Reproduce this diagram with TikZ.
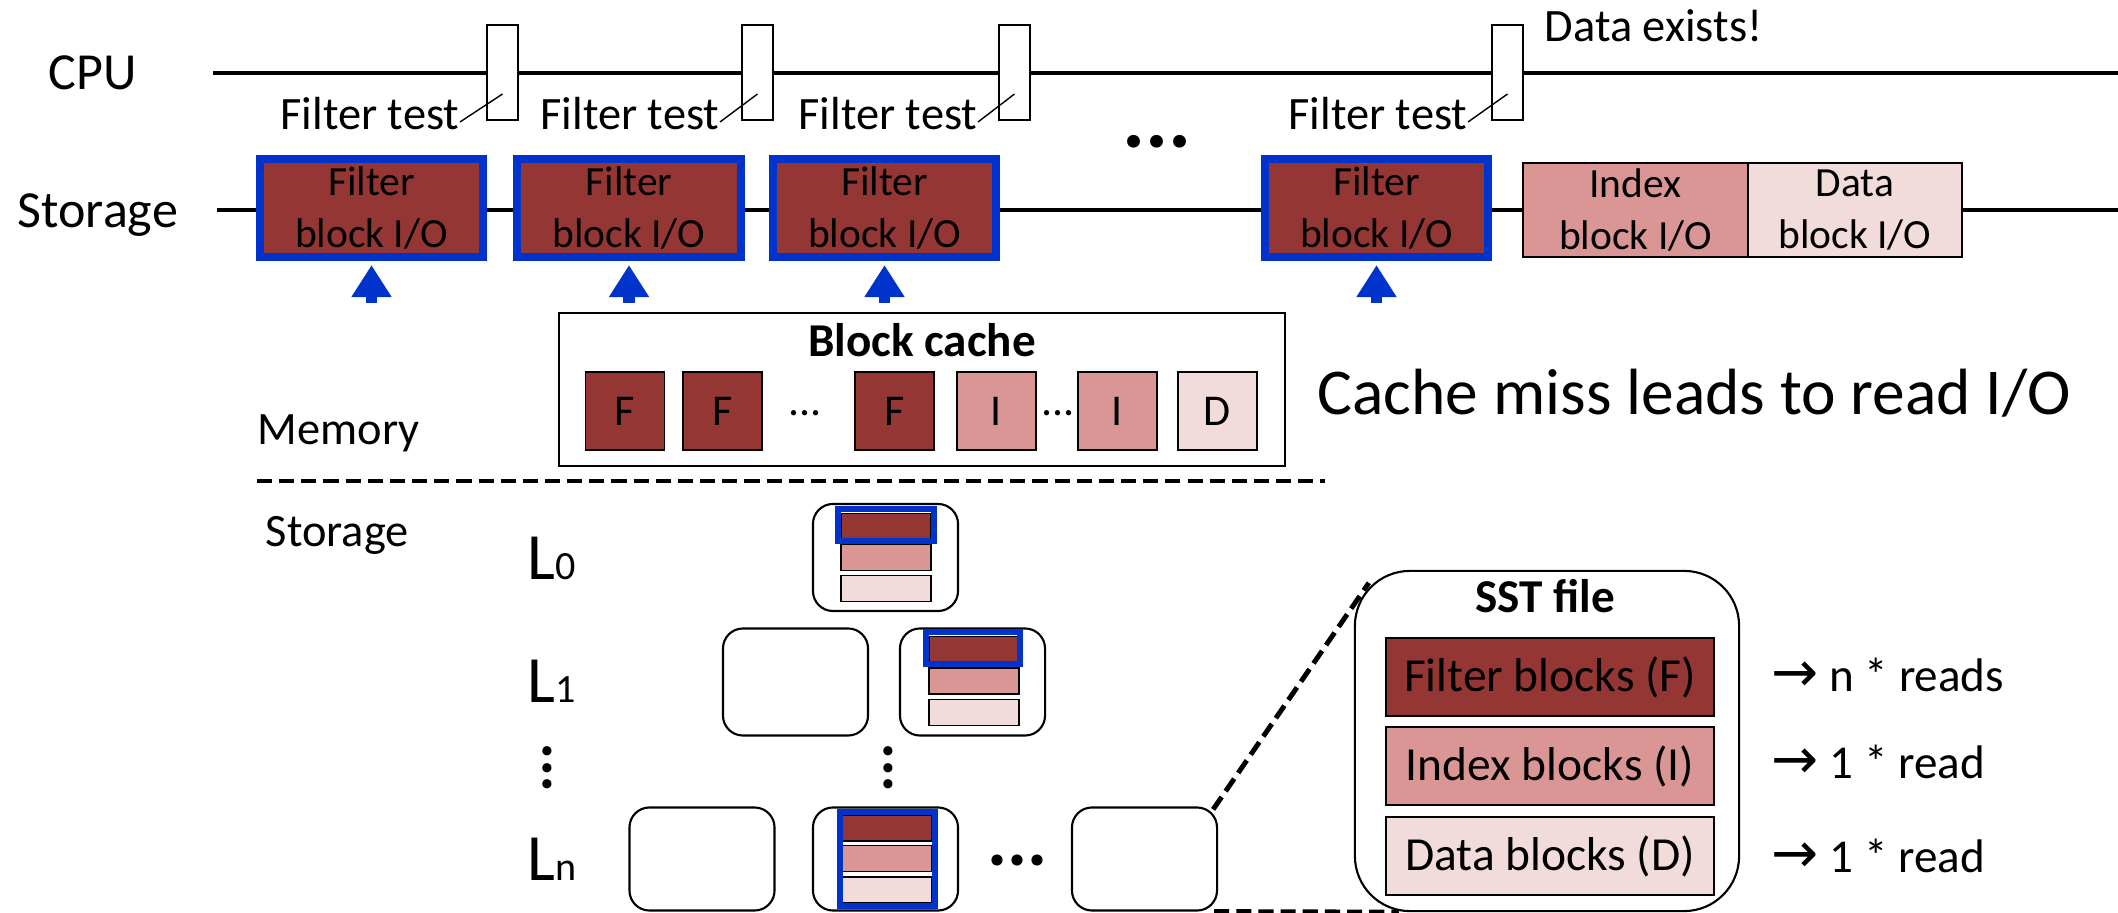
\documentclass[tikz,border=0pt]{standalone}
\usepackage{fontspec}
\setmainfont{Carlito}
\newfontfamily\arrowfont{DejaVu Sans}
\usetikzlibrary{arrows.meta,calc}
\definecolor{filterred}{HTML}{943634}
\definecolor{indexpink}{HTML}{D99694}
\definecolor{datapink}{HTML}{F2DCDB}
\definecolor{ioblue}{HTML}{0033CC}
\newcommand{\sz}[2]{\fontsize{#1}{#2}\selectfont}
\newcommand{\rarr}{{\arrowfont\sz{16}{16}→}}

\begin{document}
\begin{tikzpicture}[x=0.01cm,y=-0.01cm,
  timeline/.style={line width=1.2pt},
  cpubox/.style={draw,fill=white,line width=0.6pt,minimum width=0.31cm,minimum height=0.95cm,inner sep=0pt},
  lbl/.style={inner sep=0pt},
  leader/.style={line width=0.4pt},
  filterio/.style={draw=ioblue,fill=filterred,line width=2.3pt,minimum width=2.23cm,minimum height=0.98cm,inner sep=0pt,align=center,font=\sz{11.8}{14.8}},
  plainio/.style={draw,line width=0.6pt,minimum height=0.94cm,inner sep=0pt,align=center,font=\sz{11.8}{14.8}},
  readarrow/.style={ioblue,line width=3.4pt,-{Triangle[length=0.32cm,width=0.38cm]}},
  cell/.style={draw,line width=0.5pt,minimum width=0.79cm,minimum height=0.78cm,inner sep=0pt,font=\sz{12.5}{15}},
  sstfile/.style={draw,line width=0.6pt,rounded corners=0.2cm,minimum width=1.45cm,minimum height=1.07cm,inner sep=0pt},
  blk/.style={draw,line width=0.5pt,minimum width=0.9cm,minimum height=0.26cm,inner sep=0pt},
  hitframe/.style={draw=ioblue,line width=1.7pt,inner sep=0pt},
  memsep/.style={line width=1.4pt,dash pattern=on 4.3pt off 2pt},
  bigblk/.style={draw,line width=0.6pt,minimum width=3.28cm,minimum height=0.78cm,inner sep=0pt,font=\sz{13.5}{16}},
]
\useasboundingbox (0,0) rectangle (2118,913);

% ---- timelines ----
\node[lbl,anchor=base west,font=\sz{14.8}{17}] (cpu) at (48,90) {CPU};
\node[lbl,anchor=base west,font=\sz{14.8}{17}] (sto) at (17,228) {Storage};
\draw[timeline] (213,73) -- (2118,73);
\draw[timeline] (217,210) -- (2118,210);

% CPU filter tests
\foreach \i/\x in {1/502.5,2/757.5,3/1014.5,4/1507.5}
  \node[cpubox] (t\i) at (\x,72.5) {};
\foreach \i/\x in {1/460,2/720,3/978,4/1468} {
  \node[lbl,anchor=base east,font=\sz{13.2}{15}] (ft\i) at (\x,130) {Filter test};
  \draw[leader] ([yshift=0.08cm]ft\i.base east) -- ([yshift=-0.215cm]t\i.center);
}
\node[lbl,anchor=base west,font=\sz{13.2}{15}] (found) at (1544,42) {Data exists!};

% storage reads
\foreach \i/\x in {1/371.5,2/629,3/884.5,4/1376.5} {
  \node[filterio] (f\i) at (\x,208) {Filter\\block I/O};
  \coordinate (a\i) at (\x,303);
  \draw[readarrow] (a\i) -- ([yshift=-0.04cm]f\i.south);
}
\node[plainio,fill=indexpink,minimum width=2.25cm] (ix) at (1635.5,210) {Index\\block I/O};
\node[plainio,fill=datapink,minimum width=2.14cm] (dx) at (1855,210) {Data\\block I/O};
\node[lbl,font=\bfseries\sz{24.5}{26}] (tdots) at (1157,142) {...};

% ---- block cache ----
\node[draw,line width=0.6pt,minimum width=7.26cm,minimum height=1.53cm,inner sep=0pt] (cache) at (922,389.5) {};
\node[lbl,anchor=base,font=\bfseries\sz{13.4}{16}] (cachet) at (922,357) {Block cache};
\node[cell,fill=filterred] (c1) at (625,411) {F};
\node[cell,fill=filterred] (c2) at (722.5,411) {F};
\node[cell,fill=filterred] (c3) at (894.5,411) {F};
\node[cell,fill=indexpink] (c4) at (996.5,411) {I};
\node[cell,fill=indexpink] (c5) at (1117.5,411) {I};
\node[cell,fill=datapink] (c6) at (1217.5,411) {D};
\node[lbl,anchor=base,font=\sz{12.5}{15}] (cd1) at (805,416) {...};
\node[lbl,anchor=base,font=\sz{12.5}{15}] (cd2) at (1058,416) {...};
\node[lbl,anchor=base west,font=\sz{18.6}{21}] (miss) at (1317,415) {Cache miss leads to read I/O};

\node[lbl,anchor=base west,font=\sz{13.2}{15}] (mem) at (257,445) {Memory};
\draw[memsep] (257,481) -- (1325,481);
\node[lbl,anchor=base west,font=\sz{13.2}{15}] (sto2) at (265,547) {Storage};

% ---- LSM levels ----
\node[lbl,anchor=base west] (lv0) at (527,580) {\sz{18.8}{20}L\sz{11.4}{13}0};
\node[lbl,anchor=base west] (lv1) at (527,703) {\sz{18.8}{20}L\sz{11.4}{13}1};
\node[lbl,anchor=base west] (lvn) at (527,880) {\sz{18.8}{20}L\sz{11.4}{13}n};

\node[sstfile] (l0) at (885.5,557.5) {};
\node[blk,fill=filterred] (l0f) at ($(l0)+(0.5,-31)$) {};
\node[blk,fill=indexpink] (l0i) at ($(l0)+(0.5,0)$) {};
\node[blk,fill=datapink] (l0d) at ($(l0)+(0.5,31)$) {};
\node[hitframe,minimum width=0.95cm,minimum height=0.32cm] (l0h) at ($(l0f)+(0,-1.5)$) {};

\node[sstfile] (l1a) at (795.5,682) {};
\node[sstfile] (l1b) at (972.5,682) {};
\node[blk,fill=filterred] (l1f) at ($(l1b)+(1.5,-32.5)$) {};
\node[blk,fill=indexpink] (l1i) at ($(l1b)+(1.5,-1)$) {};
\node[blk,fill=datapink] (l1d) at ($(l1b)+(1.5,30.5)$) {};
\node[hitframe,minimum width=0.94cm,minimum height=0.32cm] (l1h) at ($(l1f)+(-1,-1.5)$) {};

\node[lbl,rotate=90,font=\bfseries\sz{17.6}{20}] (vd1) at (547,768) {...};
\node[lbl,rotate=90,font=\bfseries\sz{17.6}{20}] (vd2) at (888,768) {...};

\node[sstfile,minimum height=1.03cm] (lna) at (702,859) {};
\node[sstfile,minimum height=1.03cm] (lnb) at (885.5,859) {};
\node[sstfile,minimum height=1.03cm] (lnc) at (1144.5,859) {};
\node[blk,fill=filterred] (lnf) at ($(lnb)+(1,-31)$) {};
\node[blk,fill=indexpink] (lni) at ($(lnb)+(1,-0.5)$) {};
\node[blk,fill=datapink] (lnd) at ($(lnb)+(1,31)$) {};
\node[hitframe,minimum width=0.95cm,minimum height=0.94cm] (lnh) at ($(lnb)+(2,0)$) {};
\node[lbl,font=\bfseries\sz{21.3}{23}] (hd) at (1017,860) {...};

% ---- SST file detail ----
\node[draw,line width=0.6pt,rounded corners=0.55cm,minimum width=3.84cm,minimum height=3.40cm,inner sep=0pt] (sst) at (1547,741) {};
\node[lbl,anchor=base,font=\bfseries\sz{13.4}{16}] (sstt) at (1545,613) {SST file};
\node[bigblk,fill=filterred] (sf) at (1550,677) {Filter blocks (F)};
\node[bigblk,fill=indexpink] (si) at (1550,766) {Index blocks (I)};
\node[bigblk,fill=datapink] (sd) at (1550,856) {Data blocks (D)};
\node[lbl,anchor=base west,font=\sz{13.4}{16}] (rf) at (1771,692) {\rarr\ n * reads};
\node[lbl,anchor=base west,font=\sz{13.4}{16}] (ri) at (1771,778) {\rarr\ 1 * read};
\node[lbl,anchor=base west,font=\sz{13.4}{16}] (rd) at (1771,872) {\rarr\ 1 * read};

\draw[memsep] ([xshift=-0.05cm,yshift=-0.03cm]lnc.north east) -- ([xshift=0.15cm,yshift=-0.13cm]sst.north west);
\draw[memsep] ([xshift=-0.04cm]lnc.south east) -- ([xshift=0.45cm]sst.south west);
\end{tikzpicture}
\end{document}
